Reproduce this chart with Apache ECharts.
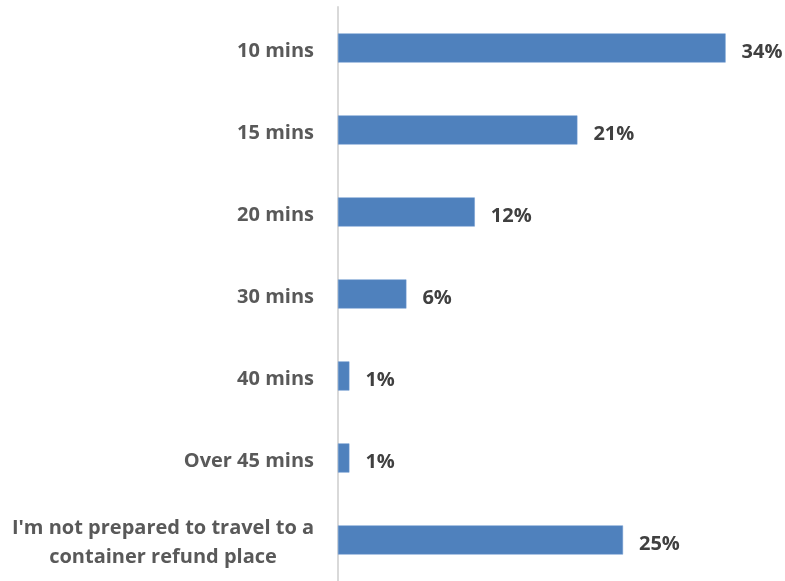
<!DOCTYPE html>
<html>
<head>
<meta charset="utf-8">
<script src="https://cdn.jsdelivr.net/npm/echarts@6/dist/echarts.min.js"></script>
<style>
  html, body { margin: 0; padding: 0; background: #fff; }
  #chart { width: 785px; height: 581px; }
</style>
</head>
<body>
<div id="chart"></div>
<script>
// Travel time people would accept to reach a container refund place
const categories = [
  '10 mins',
  '15 mins',
  '20 mins',
  '30 mins',
  '40 mins',
  'Over 45 mins',
  "I'm not prepared to travel to a\ncontainer refund place"
];
const shares = [34, 21, 12, 6, 1, 1, 25];

const chart = echarts.init(document.getElementById('chart'));
chart.setOption({
  animation: false,
  grid: { left: 338, right: 48, top: 7, height: 578, containLabel: false },
  xAxis: {
    type: 'value',
    min: 0,
    max: 35,
    show: false
  },
  yAxis: {
    type: 'category',
    data: categories,
    inverse: true,
    axisLine: { show: true, lineStyle: { color: '#d9d9d9', width: 2 } },
    axisTick: { show: false },
    axisLabel: {
      margin: 24,
      padding: [6, 0, 0, 0],
      color: '#595959',
      fontFamily: 'Open Sans',
      fontWeight: 'bold',
      fontSize: 20,
      lineHeight: 29,
      align: 'right',
      // multi-line labels are centred line by line inside their block
      formatter: v => v.indexOf('\n') >= 0
        ? v.split('\n').map(s => '{c|' + s + '}').join('\n')
        : v,
      rich: {
        c: {
          width: 302,
          align: 'center',
          color: '#595959',
          fontFamily: 'Open Sans',
          fontWeight: 'bold',
          fontSize: 20,
          lineHeight: 29
        }
      }
    }
  },
  series: [{
    type: 'bar',
    data: shares,
    barWidth: '35.5%',
    itemStyle: { color: '#4f81bd', borderColor: '#6e9bd1', borderWidth: 0.5 },
    label: {
      show: true,
      position: 'right',
      distance: 16,
      offset: [0, 4],
      formatter: p => p.value + '%',
      color: '#404040',
      fontFamily: 'Open Sans',
      fontWeight: 'bold',
      fontSize: 20
    }
  }]
});
</script>
</body>
</html>
